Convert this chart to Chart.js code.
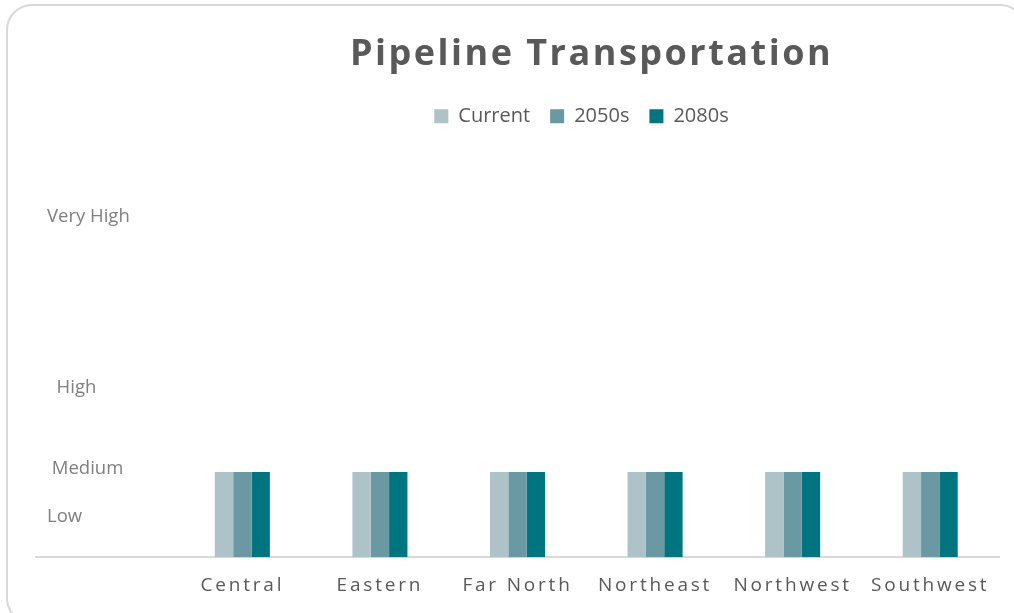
<!DOCTYPE html>
<html>
<head>
<meta charset="utf-8">
<script src="https://cdn.jsdelivr.net/npm/chart.js@4.4.1/dist/chart.umd.min.js"></script>
<style>
    html, body { margin: 0; padding: 0; background: #fff; }
    #wrap { position: relative; width: 1014px; height: 613px; overflow: hidden; }
    #frame {
        position: absolute; left: 6px; top: 4px; width: 1020px; height: 620px;
        border: 2px solid #d9d9d9; border-radius: 26px; box-sizing: border-box;
    }
    #chart { position: absolute; left: 0; top: 0; }
</style>
</head>
<body>
<div id="wrap">
    <div id="frame"></div>
    <canvas id="chart" width="1014" height="613"></canvas>
</div>
<script>
// first category is an empty slot, the chart leaves room for the risk labels there
const regions = ['', 'Central', 'Eastern', 'Far North', 'Northeast', 'Northwest', 'Southwest'];
const current = [null, 1, 1, 1, 1, 1, 1];
const s2050 = [null, 1, 1, 1, 1, 1, 1];
const s2080 = [null, 1, 1, 1, 1, 1, 1];

const levelLabels = ['Low', ' Medium', '  High', 'Very High'];
const levelValues = [0.47, 1.04, 1.99, 4.0];

// wraps a draw method: Excel style letter spacing, and the title/legend sit right of centre
function patch(box, method, amount, shift) {
    if (!box || box['_p_' + method]) return;
    const orig = box[method];
    box[method] = function (...args) {
        this.ctx.save();
        this.ctx.letterSpacing = amount;
        this.ctx.translate(shift, 0);
        orig.apply(this, args);
        this.ctx.restore();
    };
    box['_p_' + method] = true;
}

const tweaks = {
    id: 'tweaks',
    beforeDraw(chart) {
        patch(chart.titleBlock, 'draw', '2.5px', 85);
        patch(chart.legend, 'draw', '0px', 75);
        patch(chart.scales.x, 'drawLabels', '2.8px', 0);
    },
};

Chart.defaults.font.family = "'Open Sans', sans-serif";

new Chart(document.getElementById('chart'), {
    type: 'bar',
    data: {
        labels: regions,
        datasets: [
            { label: 'Current', data: current, backgroundColor: '#adc3c8' },
            { label: '2050s', data: s2050, backgroundColor: '#6a99a3' },
            { label: '2080s', data: s2080, backgroundColor: '#00757f' },
        ],
    },
    options: {
        responsive: false,
        animation: false,
        layout: {
            padding: { top: 10, left: 14, right: 15, bottom: 0 },
        },
        datasets: {
            bar: { categoryPercentage: 0.4, barPercentage: 1.0 },
        },
        plugins: {
            title: {
                display: true,
                text: 'Pipeline Transportation',
                color: '#595959',
                font: { size: 36, weight: 'bold' },
                padding: { top: 23, bottom: 10 },
            },
            legend: {
                position: 'top',
                labels: {
                    boxWidth: 14,
                    boxHeight: 14,
                    padding: 20,
                    color: '#595959',
                    font: { size: 20 },
                },
            },
            tooltip: { enabled: false },
        },
        scales: {
            x: {
                grid: { display: false, drawTicks: false },
                border: { display: true, color: '#d9d9d9', width: 2 },
                ticks: { color: '#595959', font: { size: 19 }, padding: 16.5, maxRotation: 0, autoSkip: false },
            },
            y: {
                min: 0,
                max: 4.94,
                grid: { display: false, drawTicks: false },
                border: { display: false },
                afterBuildTicks: (scale) => {
                    scale.ticks = levelValues.map((v) => ({ value: v }));
                },
                ticks: {
                    mirror: true,
                    padding: 11,
                    color: '#7f7f7f',
                    font: { size: 18.5 },
                    autoSkip: false,
                    callback: (value, index) => levelLabels[index],
                },
            },
        },
    },
    plugins: [tweaks],
});
</script>
</body>
</html>
